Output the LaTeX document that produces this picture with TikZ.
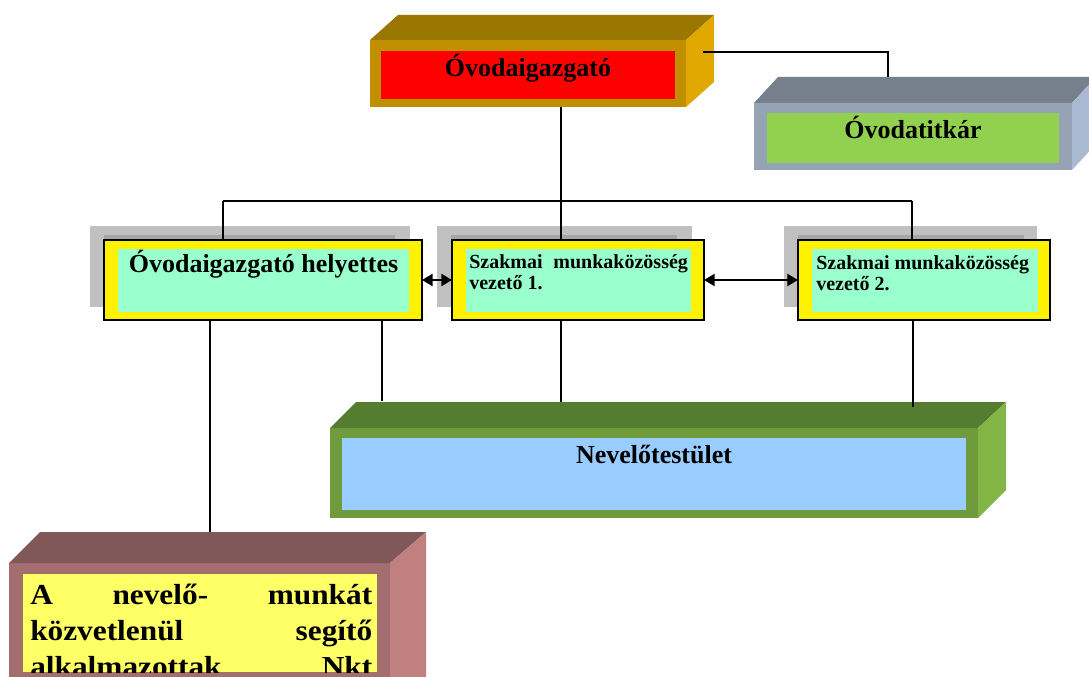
\documentclass[tikz,border=0pt]{standalone}
\usepackage{fontspec}
\setmainfont{Liberation Serif}
\newfontfamily\widefont[FakeStretch=1.08]{Liberation Serif}
\usetikzlibrary{arrows.meta}
\definecolor{b1front}{HTML}{C09000}
\definecolor{b1top}{HTML}{997700}
\definecolor{b1side}{HTML}{E0A800}
\definecolor{b2front}{HTML}{96A3B4}
\definecolor{b2top}{HTML}{76808D}
\definecolor{b2side}{HTML}{AAB9D2}
\definecolor{b3front}{HTML}{709B3C}
\definecolor{b3top}{HTML}{557D30}
\definecolor{b3side}{HTML}{82B446}
\definecolor{b4front}{HTML}{A56E6E}
\definecolor{b4top}{HTML}{805858}
\definecolor{b4side}{HTML}{C08080}
\definecolor{aqua}{HTML}{99FFCC}
\definecolor{lblue}{HTML}{99CCFF}
\definecolor{lgreen}{HTML}{92D050}
\definecolor{lyellow}{HTML}{FFFF66}
\definecolor{shadowlight}{HTML}{C0C0C0}
\definecolor{shadowdark}{HTML}{A6A6A6}
\newcommand\pxnode[6]{\node[#6, anchor=north west, inner sep=0pt, outer sep=0pt, minimum width={(#4-#2)*0.75pt}, minimum height={(#5-#3)*0.75pt}] (#1) at (#2,#3) {};}
\tikzset{
  conn/.style={draw=black, line width=0.9pt},
  dblarrow/.style={draw=black, line width=1.6pt, {Triangle[length=8pt,width=9pt]}-{Triangle[length=8pt,width=9pt]}},
  yellowbox/.style={fill=yellow, draw=black, line width=0.9pt},
  lbl/.style={font=\bfseries, inner sep=0pt, anchor=base},
  big/.style={font=\fontsize{19.5pt}{23pt}\selectfont\bfseries},
}
\begin{document}
\begin{tikzpicture}[x=0.75pt,y=-0.75pt]
\useasboundingbox (0,0) rectangle (1089,677);
\clip (0,0) rectangle (1089,677);

% ---------- Óvodaigazgató (3D box) ----------
\pxnode{b1}{370}{40}{686}{107}{fill=b1front}
\fill[b1top] (b1.north west) -- ++(28,-25) -- ++(316,0) -- (b1.north east) -- cycle;
\fill[b1side] (b1.north east) -- ++(28,-25) -- ++(0,67) -- (b1.south east) -- cycle;
\pxnode{b1in}{381}{51}{675}{99}{fill=red}
\node[lbl, big] (t1) at (528,77) {Óvodaigazgató};

% ---------- Óvodatitkár (3D box) ----------
\pxnode{b2}{754}{103}{1072}{170}{fill=b2front}
\fill[b2top] (b2.north west) -- ++(24,-26) -- ++(318,0) -- (b2.north east) -- cycle;
\fill[b2side] (b2.north east) -- ++(24,-26) -- ++(0,67) -- (b2.south east) -- cycle;
\pxnode{b2in}{767}{113}{1059}{163}{fill=lgreen}
\node[lbl, big] (t2) at (913,139) {Óvodatitkár};

% ---------- shadows of middle row ----------
\pxnode{h_sh}{90}{226}{410}{307}{fill=shadowlight}
\pxnode{h_shd}{104}{235}{395}{300}{fill=shadowdark}
\pxnode{s1_sh}{437}{226}{692}{307}{fill=shadowlight}
\pxnode{s1_shd}{451}{235}{677}{300}{fill=shadowdark}
\pxnode{s2_sh}{784}{226}{1037}{307}{fill=shadowlight}
\pxnode{s2_shd}{798}{235}{1024}{300}{fill=shadowdark}

% ---------- Nevelőtestület (3D box) ----------
\pxnode{nt}{330}{428}{978}{518}{fill=b3front}
\fill[b3top] (nt.north west) -- ++(26,-26) -- ++(650,0) -- (nt.north east) -- cycle;
\fill[b3side] (nt.north east) -- ++(28,-26) -- ++(0,88) -- (nt.south east) -- cycle;
\pxnode{ntin}{342}{438}{966}{510}{fill=lblue}
\node[lbl, big] (t3) at (654,463) {Nevelőtestület};

% ---------- bottom box (3D) ----------
\pxnode{b4}{9}{563}{390}{720}{fill=b4front}
\fill[b4top] (b4.north west) -- ++(31,-31) -- ++(386,0) -- (b4.north east) -- cycle;
\fill[b4side] (b4.north east) -- ++(36,-31) -- ++(0,190) -- (b4.south east) -- cycle;
\pxnode{b4in}{23}{574}{377}{672}{fill=lyellow}
\begin{scope}
\clip (b4in.north west) rectangle (b4in.south east);
\node[anchor=base west, inner sep=0pt] (t4) at (30,604)
  {\parbox[t]{256.5pt}{\widefont\bfseries\fontsize{21.75pt}{27pt}\selectfont
   A\hfill nevelő-\hfill munkát\\
   közvetlenül\hfill segítő\\
   alkalmazottak\hfill Nkt}};
\end{scope}

% ---------- coordinates for connectors ----------
\coordinate (b1r) at (703,52);
\coordinate (b2t) at (888,77);
\coordinate (bus) at (561,201);
\coordinate (busL) at (223,201);
\coordinate (busR) at (912,201);

% ---------- connectors ----------
\draw[conn] (b1r) -| (b2t);
\draw[conn] (b1.south -| bus) -- (bus);
\draw[conn] (busL) -- (busR);
\draw[conn] (bus) -- (561,240);
\draw[conn] (busL) -- (223,240);
\draw[conn] (busR) -- (912,240);
\draw[conn] (210,320) -- (210,532);
\draw[conn] (382,320) -- (382,401);
\draw[conn] (561,320) -- (561,402);
\draw[conn] (913,320) -- (913,407);

% ---------- middle row boxes ----------
\pxnode{h}{104}{240}{422}{320}{yellowbox}
\pxnode{hin}{118}{249}{409}{312}{fill=aqua}
\node[lbl, big] (th) at (263.5,273) {Óvodaigazgató helyettes};

\pxnode{s1}{452}{240}{704}{320}{yellowbox}
\pxnode{s1in}{466}{249}{691}{312}{fill=aqua}
\node[anchor=base west, inner sep=0pt] (ts1) at (469,269)
  {\parbox[t]{164pt}{\bfseries\fontsize{15pt}{15.75pt}\selectfont Szakmai\hfill munkaközösség\\ vezető 1.}};

\pxnode{s2}{798}{240}{1050}{320}{yellowbox}
\pxnode{s2in}{812}{249}{1038}{312}{fill=aqua}
\node[anchor=base west, inner sep=0pt] (ts2) at (816,270)
  {\parbox[t]{164pt}{\bfseries\fontsize{15pt}{15.75pt}\selectfont Szakmai munkaközösség\\ vezető 2.}};

% ---------- arrows ----------
\draw[dblarrow] (h.east |- 0,280) -- (s1.west |- 0,280);
\draw[dblarrow] (s1.east |- 0,280) -- (s2.west |- 0,280);
\end{tikzpicture}
\end{document}
